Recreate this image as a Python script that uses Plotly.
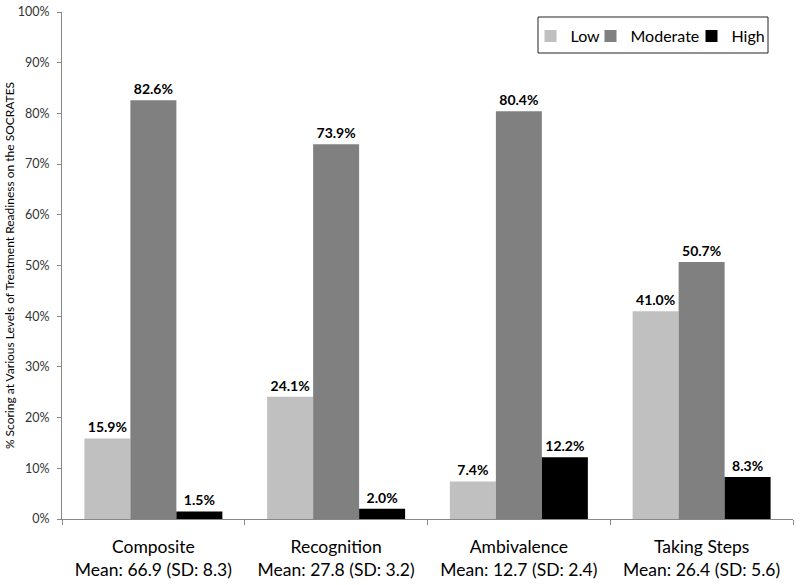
import plotly.graph_objects as go

categories = ["Composite<br>Mean: 66.9 (SD: 8.3)", "Recognition<br>Mean: 27.8 (SD: 3.2)",
              "Ambivalence<br>Mean: 12.7 (SD: 2.4)", "Taking Steps<br>Mean: 26.4 (SD: 5.6)"]
low = [15.9, 24.1, 7.4, 41.0]
moderate = [82.6, 73.9, 80.4, 50.7]
high = [1.5, 2.0, 12.2, 8.3]
series_names = ["Low", "Moderate", "High"]
colors = ["#c0c0c0", "#808080", "#000000"]
legend_ids = ["legend", "legend2", "legend3"]

FONT = "Lato, Open Sans, sans-serif"
fig = go.Figure()
for name, vals, col, lid in zip(series_names, [low, moderate, high], colors, legend_ids):
    fig.add_trace(go.Bar(
        x=categories, y=vals, name=name, marker=dict(color=col, line=dict(width=0)),
        text=[f"{v:.1f}%" for v in vals], textposition="outside",
        textfont=dict(family=FONT, size=14, color="#000000"),
        texttemplate="<b>%{text}</b>", cliponaxis=False, legend=lid,
    ))

W, H = 800, 585
ML, MR, MT, MB = 62, 7, 12, 66
pw = W - ML - MR
ph = H - MT - MB

def px_x(x):  # pixel -> paper x
    return (x - ML) / pw

def px_y(y):  # pixel -> paper y
    return 1 - (y - MT) / ph

leg_common = dict(orientation="h", yanchor="top", xanchor="left", borderwidth=0,
                  bgcolor="rgba(0,0,0,0)", font=dict(size=16, family=FONT), itemwidth=30)
legend_left = [530.5, 590.5, 691.5]

fig.update_layout(
    width=W, height=H, barmode="group", bargap=0.245, bargroupgap=0,
    paper_bgcolor="white", plot_bgcolor="white",
    margin=dict(l=ML, r=MR, t=MT, b=MB, autoexpand=False),
    font=dict(family=FONT, color="#000000"),
    showlegend=True,
    legend=dict(x=px_x(legend_left[0]), y=px_y(19), **leg_common),
    legend2=dict(x=px_x(legend_left[1]), y=px_y(19), **leg_common),
    legend3=dict(x=px_x(legend_left[2]), y=px_y(19), **leg_common),
    shapes=[dict(type="rect", xref="paper", yref="paper",
                 x0=px_x(538), x1=px_x(768), y0=px_y(53), y1=px_y(17),
                 line=dict(color="#222222", width=1), fillcolor="rgba(0,0,0,0)", layer="above")],
)
fig.update_xaxes(showline=True, linecolor="#888888", linewidth=1, ticks="outside",
                 tickson="boundaries", ticklen=5, tickcolor="#888888", ticklabelstandoff=12,
                 tickfont=dict(size=17.5, family=FONT), showgrid=False, automargin=False)
fig.update_yaxes(range=[0, 100], dtick=10, ticksuffix="%", showline=True,
                 linecolor="#888888", linewidth=1, ticks="outside", ticklen=4,
                 tickcolor="#888888", showgrid=False, automargin=True, ticklabelstandoff=5,
                 ticklabeloverflow="allow",
                 tickfont=dict(size=12.5, family=FONT, color="#333333"),
                 title=dict(text="% Scoring at Various Levels of Treatment Readiness on the SOCRATES",
                            font=dict(size=12, family=FONT), standoff=0))
fig.write_html("out.html", config={"displayModeBar": False},
               post_script="document.body.style.margin='0';")
